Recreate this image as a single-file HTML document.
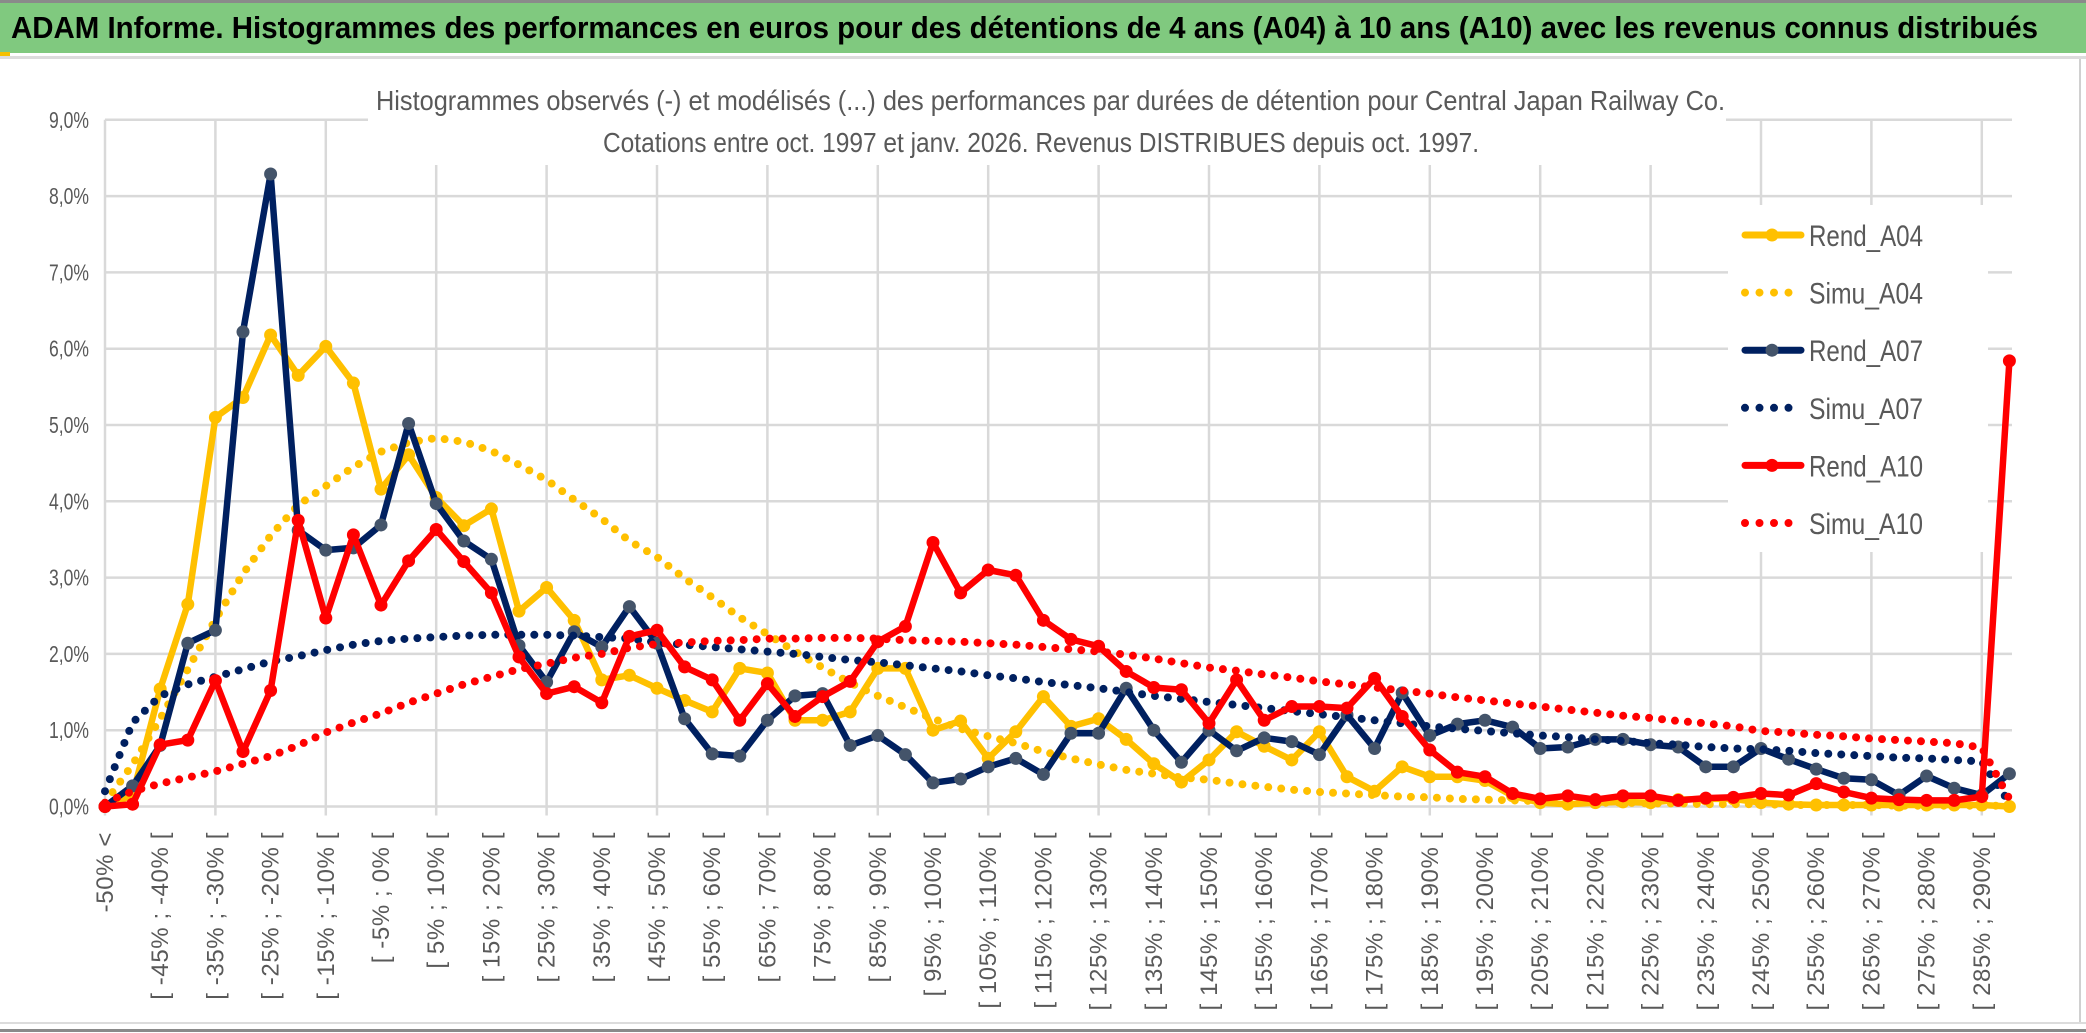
<!DOCTYPE html>
<html><head><meta charset="utf-8"><style>
html,body{margin:0;padding:0;background:#fff;}
svg{display:block;font-family:"Liberation Sans",sans-serif;}
</style></head><body>
<svg id="chart" width="2086" height="1033" viewBox="0 0 2086 1033" xmlns="http://www.w3.org/2000/svg">
  <rect x="0" y="0" width="2086" height="1033" fill="#fff"/>
  <rect x="0" y="2" width="2086" height="51" fill="#80c97f"/>
  <rect x="0" y="0" width="2086" height="3" fill="#8a8a8a"/>
  <rect x="0" y="56" width="2086" height="3" fill="#dcdcdc"/>
  <rect x="0" y="52" width="10" height="4" fill="#f5c000"/>
  <text x="11" y="38" font-size="31" font-weight="bold" fill="#000" textLength="2027" lengthAdjust="spacingAndGlyphs">ADAM Informe. Histogrammes des performances en euros pour des détentions de 4 ans (A04) à 10 ans (A10) avec les revenus connus distribués</text>
  <rect x="2079" y="59" width="2" height="965" fill="#d0d0d0"/>
  <rect x="0" y="1022" width="2086" height="2" fill="#dcdcdc"/>
  <rect x="0" y="1029" width="2086" height="3" fill="#8a8a8a"/>
  <g id="grid"></g>
  <rect x="368" y="92" width="1358" height="73" fill="#fff"/>
  <text x="376" y="110" font-size="28" fill="#595959" textLength="1349" lengthAdjust="spacingAndGlyphs">Histogrammes observés (-) et modélisés (...) des performances par durées de détention pour Central Japan Railway Co.</text>
  <text x="603" y="152" font-size="28" fill="#595959" textLength="876" lengthAdjust="spacingAndGlyphs">Cotations entre oct. 1997 et janv. 2026. Revenus DISTRIBUES depuis oct. 1997.</text>
  <g id="yaxis"></g>
  <g id="xaxis"></g>
  <rect x="1728" y="205" width="260" height="347" fill="#fff"/>
  <g id="series"></g>
  <g id="legend"></g>
</svg>
<script>
const categoriesLower = [];
for (let k = 1; k < 70; k++) categoriesLower.push(-50 + 5 * (k - 1));
const yTicks = [0,1,2,3,4,5,6,7,8,9];
const yTickLabels = ["0,0%","1,0%","2,0%","3,0%","4,0%","5,0%","6,0%","7,0%","8,0%","9,0%"];
const rendA04 = [0,0.15,1.54,2.65,5.1,5.36,6.18,5.65,6.03,5.55,
 4.16,4.61,4.05,3.68,3.9,2.56,2.87,2.44,1.66,1.72,
 1.55,1.39,1.24,1.81,1.75,1.13,1.13,1.24,1.81,1.81,
 1.0,1.12,0.63,0.98,1.44,1.05,1.15,0.88,0.56,0.32,
 0.61,0.98,0.79,0.61,0.98,0.39,0.2,0.52,0.39,0.39,
 0.34,0.14,0.05,0.03,0.05,0.06,0.05,0.09,0.1,0.1,
 0.05,0.03,0.02,0.02,0.02,0.02,0.02,0.02,0.02,0.0];
const simuA04 = [0.05,0.55,1.15,1.8,2.45,3.05,3.55,3.95,4.2,4.45,
 4.65,4.77,4.83,4.78,4.66,4.48,4.28,4.02,3.77,3.48,
 3.27,2.99,2.74,2.48,2.26,2.03,1.82,1.62,1.45,1.3,
 1.15,1.02,0.92,0.83,0.72,0.63,0.55,0.48,0.43,0.38,
 0.35,0.3,0.26,0.22,0.19,0.17,0.15,0.13,0.12,0.1,
 0.09,0.08,0.07,0.06,0.05,0.05,0.04,0.04,0.03,0.03,
 0.03,0.02,0.02,0.02,0.02,0.01,0.01,0.01,0.01,0.01];
const rendA07 = [0,0.27,0.8,2.14,2.31,6.22,8.29,3.62,3.36,3.39,
 3.69,5.02,3.97,3.48,3.24,2.11,1.63,2.29,2.09,2.62,
 2.14,1.15,0.69,0.66,1.13,1.45,1.48,0.8,0.93,0.68,
 0.31,0.36,0.52,0.63,0.42,0.96,0.96,1.55,1.0,0.58,
 1.0,0.73,0.9,0.85,0.68,1.2,0.76,1.49,0.93,1.08,
 1.13,1.04,0.76,0.78,0.88,0.88,0.81,0.78,0.52,0.52,
 0.76,0.62,0.49,0.37,0.35,0.15,0.4,0.24,0.15,0.43];
const simuA07 = [0.2,1.1,1.45,1.6,1.7,1.8,1.9,1.97,2.05,2.12,
 2.17,2.2,2.22,2.24,2.25,2.25,2.25,2.24,2.22,2.2,
 2.15,2.12,2.09,2.06,2.03,2.0,1.96,1.92,1.89,1.85,
 1.81,1.77,1.72,1.68,1.63,1.59,1.55,1.5,1.45,1.41,
 1.37,1.33,1.29,1.25,1.21,1.17,1.13,1.09,1.05,1.02,
 0.99,0.96,0.93,0.91,0.88,0.86,0.83,0.81,0.78,0.76,
 0.75,0.73,0.7,0.68,0.66,0.64,0.63,0.61,0.59,0.05];
const rendA10 = [0,0.03,0.81,0.87,1.65,0.72,1.52,3.75,2.47,3.56,
 2.64,3.22,3.63,3.21,2.8,1.96,1.48,1.57,1.36,2.23,
 2.31,1.83,1.66,1.13,1.61,1.18,1.44,1.64,2.16,2.36,
 3.46,2.8,3.1,3.03,2.44,2.19,2.1,1.77,1.56,1.53,
 1.09,1.66,1.13,1.31,1.31,1.29,1.68,1.18,0.74,0.45,
 0.39,0.17,0.1,0.14,0.09,0.14,0.14,0.08,0.11,0.12,
 0.17,0.15,0.3,0.19,0.11,0.09,0.08,0.08,0.13,5.84];
const simuA10 = [0.05,0.2,0.3,0.38,0.46,0.56,0.66,0.8,0.97,1.1,
 1.22,1.36,1.48,1.6,1.7,1.8,1.87,1.95,2.0,2.08,
 2.13,2.15,2.17,2.18,2.2,2.2,2.21,2.21,2.2,2.18,
 2.17,2.16,2.14,2.12,2.09,2.06,2.03,1.99,1.94,1.88,
 1.82,1.78,1.73,1.69,1.64,1.6,1.56,1.52,1.48,1.43,
 1.39,1.35,1.31,1.27,1.23,1.19,1.16,1.12,1.09,1.05,
 0.99,0.97,0.94,0.92,0.89,0.87,0.85,0.83,0.77,0.1];
const seriesNames = ["Rend_A04","Simu_A04","Rend_A07","Simu_A07","Rend_A10","Simu_A10"];

const NS = "http://www.w3.org/2000/svg";
const X0 = 105, STEP = 27.6, Y0 = 806.5, UNIT = 76.3, XEND = 2012;
const nCat = rendA04.length;
function xPos(i){ return X0 + i * STEP; }
function yPos(v){ return Y0 - v * UNIT; }
function mk(tag, attrs, parent){ const e = document.createElementNS(NS, tag); for (const k in attrs) e.setAttribute(k, attrs[k]); parent.appendChild(e); return e; }

const grid = document.getElementById('grid');
yTicks.forEach(function(t){
  const l = mk('line', {x1: X0, x2: XEND, y1: yPos(t), y2: yPos(t), stroke: '#d9d9d9', 'stroke-width': 2.5}, grid);
  
  
});
for (let i = 0; i < nCat; i += 4) {
  const l = mk('line', {x1: xPos(i), x2: xPos(i), y1: yPos(9), y2: Y0 + 9, stroke: '#d9d9d9', 'stroke-width': 2.5}, grid);
  
  
}
const yaxis = document.getElementById('yaxis');
yTicks.forEach(function(t, k){
  const tx = mk('text', {x: 89, y: yPos(t) + 8, 'font-size': 23, fill: '#595959', 'text-anchor': 'end', textLength: 40, lengthAdjust: 'spacingAndGlyphs'}, yaxis);
  tx.textContent = yTickLabels[k];
  
  
});
const xaxis = document.getElementById('xaxis');
for (let i = 0; i < nCat; i += 2) {
  const lab = i === 0 ? "-50% <" : "[ " + categoriesLower[i-1] + "% ; " + (categoriesLower[i-1] + 5) + "% [";
  const x = xPos(i) + 8, y = 832;
  const tx = mk('text', {x: x, y: y, 'font-size': 24, 'letter-spacing': 0.6, fill: '#595959', 'text-anchor': 'end', transform: 'rotate(-90 ' + x + ' ' + y + ')'}, xaxis);
  tx.textContent = lab;
  
  
}
const sg = document.getElementById('series');
function drawSeries(vals, color, dotted, markerColor, name){
  const g = mk('g', {}, sg);
  
  
  const pts = vals.map(function(v, i){ return xPos(i).toFixed(1) + ',' + yPos(v).toFixed(1); }).join(' ');
  const pl = mk('polyline', {points: pts, fill: 'none', stroke: color, 'stroke-width': dotted ? 8 : 6.5, 'stroke-linejoin': 'round', 'stroke-linecap': 'round'}, g);
  if (dotted) pl.setAttribute('stroke-dasharray', '0 13');
  
  
  if (!dotted) {
    vals.forEach(function(v, i){
      const c = mk('circle', {cx: xPos(i), cy: yPos(v), r: 6.5, fill: markerColor}, g);
      
      
    });
  }
}
drawSeries(rendA04, '#ffc000', false, '#ffc000', 'rend-a04');
drawSeries(simuA04, '#ffc000', true, null, 'simu-a04');
drawSeries(rendA07, '#002060', false, '#44546a', 'rend-a07');
drawSeries(simuA07, '#002060', true, null, 'simu-a07');
drawSeries(rendA10, '#ff0000', false, '#ff0000', 'rend-a10');
drawSeries(simuA10, '#ff0000', true, null, 'simu-a10');

const lg = document.getElementById('legend');
const legColors = ['#ffc000','#ffc000','#002060','#002060','#ff0000','#ff0000'];
const legMarker = ['#ffc000',null,'#44546a',null,'#ff0000',null];
seriesNames.forEach(function(n, k){
  const y = 235 + k * 57.6;
  const g = mk('g', {}, lg);
  
  
  const dotted = legMarker[k] === null;
  const l = mk('line', {x1: 1745, x2: 1801, y1: y, y2: y, stroke: legColors[k], 'stroke-width': dotted ? 8 : 7, 'stroke-linecap': 'round'}, g);
  if (dotted) l.setAttribute('stroke-dasharray', '0 14.5');
  
  
  if (!dotted) {
    const c = mk('circle', {cx: 1772, cy: y, r: 6.5, fill: legMarker[k]}, g);
    
    
  }
  const t = mk('text', {x: 1809, y: y + 11, 'font-size': 30, fill: '#595959', textLength: 114, lengthAdjust: 'spacingAndGlyphs'}, g);
  t.textContent = n;
  
  
});
</script>
</body></html>
